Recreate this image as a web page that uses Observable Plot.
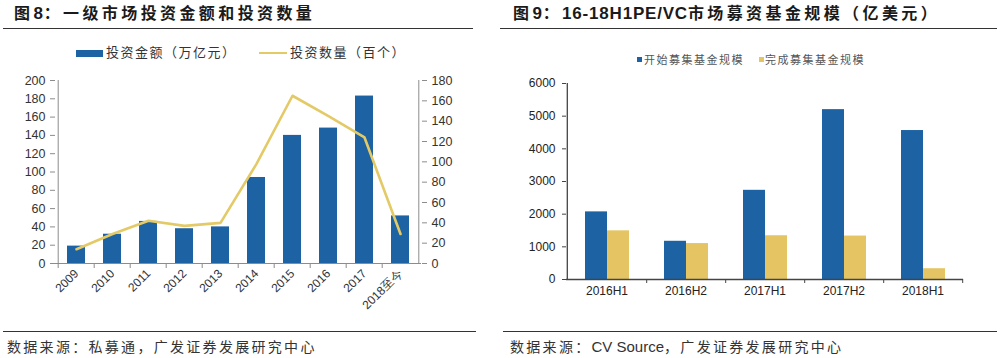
<!DOCTYPE html>
<html><head><meta charset="utf-8">
<script src="https://cdn.jsdelivr.net/npm/d3@7"></script>
<script src="https://cdn.jsdelivr.net/npm/@observablehq/plot@0.6"></script>
<style>
body{margin:0;background:#fff;width:1000px;height:358px;position:relative;overflow:hidden;font-family:"Liberation Sans",Arial,"Noto Sans CJK SC",sans-serif;}
.abs{position:absolute;}
.title{font-size:16px;font-weight:bold;letter-spacing:3.4px;color:#1a1a1a;top:4px;white-space:nowrap;line-height:20px;}
.lat{font-size:17px;letter-spacing:0.8px;}
.hr{height:0;border-top:1.6px solid #333;}
.foot{font-size:14px;color:#333;top:338px;letter-spacing:2.3px;white-space:nowrap;line-height:18px;}
.flat{letter-spacing:0;font-size:15px;}
.leg{white-space:nowrap;color:#333;}
svg{overflow:visible;}
</style></head><body>
<div class="abs title" style="left:14px">图<span class="lat">8</span>：一级市场投资金额和投资数量</div>
<div class="abs title" style="left:513px">图<span class="lat">9</span>：<span class="lat">16-18H1PE/VC</span>市场募资基金规模（亿美元）</div>
<div class="abs hr" style="left:3px;width:470px;top:28px"></div>
<div class="abs hr" style="left:500px;width:497px;top:28px"></div>

<div class="abs" style="left:76px;top:50px;width:27px;height:7px;background:#1d62a3"></div>
<div class="abs leg" style="left:106px;top:45px;font-size:13px;line-height:16px;letter-spacing:1.5px">投资金额（万亿元）</div>
<div class="abs" style="left:259px;top:52px;width:28px;height:2px;background:#e4ca66"></div>
<div class="abs leg" style="left:290px;top:45px;font-size:13px;line-height:16px;letter-spacing:1.5px">投资数量（百个）</div>

<div class="abs" style="left:637px;top:57px;width:5px;height:5px;background:#1d62a3"></div>
<div class="abs leg" style="left:644px;top:53px;font-size:11px;line-height:14px;letter-spacing:1.5px;color:#555">开始募集基金规模</div>
<div class="abs" style="left:759px;top:57px;width:5px;height:5px;background:#e5c563"></div>
<div class="abs leg" style="left:765px;top:53px;font-size:11px;line-height:14px;letter-spacing:1.5px;color:#555">完成募集基金规模</div>

<div id="c1a" class="abs" style="left:0;top:66px"></div>
<div id="c1b" class="abs" style="left:0;top:66px"></div>
<div id="c2a" class="abs" style="left:500px;top:70px"></div>
<div id="c2b" class="abs" style="left:500px;top:70px"></div>

<div class="abs hr" style="left:3px;width:473px;top:331px"></div>
<div class="abs hr" style="left:503px;width:494px;top:331px"></div>
<div class="abs foot" style="left:7px">数据来源：私募通，广发证券发展研究中心</div>
<div class="abs foot" style="left:510px">数据来源：<span class="flat">CV Source</span>，广发证券发展研究中心</div>

<script>
// ---- data: figure 8 ----
const years = ["2009","2010","2011","2012","2013","2014","2015","2016","2017","2018至今"];
const investAmount = [19, 32, 46, 38, 40, 94, 140, 148, 183, 52];   // 万亿元 (left axis)
const investCount  = [14, 29, 42, 37, 40, 98, 165, 145, 124, 29];   // 百个 (right axis)
const amountTicks = [0, 20, 40, 60, 80, 100, 120, 140, 160, 180, 200];
const countTicks  = [0, 20, 40, 60, 80, 100, 120, 140, 160, 180];

// ---- data: figure 9 ----
const periods = ["2016H1","2016H2","2017H1","2017H2","2018H1"];
const series = ["开始募集基金规模","完成募集基金规模"];
const startedFunds = [2070, 1170, 2730, 5200, 4560];
const closedFunds  = [1490, 1100, 1340, 1330, 330];
const fundTicks = [0, 1000, 2000, 3000, 4000, 5000, 6000];

const BLUE = "#1d62a3", YELLOW_LINE = "#e4ca66", YELLOW_BAR = "#e5c563";
const font = "Liberation Sans, Arial, sans-serif";
const plain = d => String(d);

// ---- figure 8 ----
const W1 = 470, H1 = 260, mL1 = 55, mR1 = 49, mT1 = 14, mB1 = 63;
const step1 = (W1 - mL1 - mR1) / years.length;
const amountRows = years.map((y, i) => ({year: y, amount: investAmount[i]}));
const countRows = years.map((y, i) => ({year: y, count: investCount[i]}));
const axis1 = "#8c8c8c";

const p1a = Plot.plot({
  width: W1, height: H1, marginLeft: mL1, marginRight: mR1, marginTop: mT1, marginBottom: mB1,
  style: {fontFamily: font, fontSize: "12px", color: "#333", background: "transparent"},
  x: {type: "band", domain: years, paddingInner: 0.5, paddingOuter: 0.25, axis: null},
  y: {domain: [0, 200], axis: null},
  marks: [
    Plot.barY(amountRows, {x: "year", y: "amount", fill: BLUE}),
    Plot.ruleY([0], {stroke: axis1}),
    Plot.ruleX([years[0]], {dx: -step1 / 2, stroke: axis1}),
    Plot.axisY(amountTicks, {tickSize: 5, tickPadding: 5, stroke: axis1, fill: "#333", fontSize: 12.5, tickFormat: plain, label: null}),
    Plot.axisX({tickSize: 5, tickFormat: () => "", dx: -step1 / 2, stroke: axis1, label: null}),
    Plot.axisX({tickSize: 0, tickPadding: 8, tickRotate: -45, fill: "#333", fontSize: 12, label: null})
  ]
});
document.getElementById("c1a").appendChild(p1a);

const p1b = Plot.plot({
  width: W1, height: H1, marginLeft: mL1, marginRight: mR1, marginTop: mT1, marginBottom: mB1,
  style: {fontFamily: font, fontSize: "12px", color: "#333", background: "transparent"},
  x: {type: "point", domain: years, padding: 0.5, axis: null},
  y: {domain: [0, 180], axis: null},
  marks: [
    Plot.line(countRows, {x: "year", y: "count", stroke: YELLOW_LINE, strokeWidth: 2.6}),
    Plot.ruleX([years[years.length - 1]], {dx: step1 / 2, stroke: axis1}),
    Plot.axisY(countTicks, {anchor: "right", tickSize: 5, tickPadding: 5, stroke: axis1, fill: "#333", fontSize: 12.5, tickFormat: plain, label: null})
  ]
});
document.getElementById("c1b").appendChild(p1b);

// ---- figure 9 ----
const W2 = 500, H2 = 240, mL2 = 66, mR2 = 37, mT2 = 13, mB2 = 31;
const step2 = (W2 - mL2 - mR2) / periods.length;
const fundRows = periods.flatMap((p, i) => [
  {period: p, series: series[0], value: startedFunds[i]},
  {period: p, series: series[1], value: closedFunds[i]}
]);
const axis2 = "#444";

const p2a = Plot.plot({
  width: W2, height: H2, marginLeft: mL2, marginRight: mR2, marginTop: mT2, marginBottom: mB2,
  style: {fontFamily: font, background: "transparent"},
  facet: {data: fundRows, x: "period"},
  fx: {domain: periods, padding: 0, axis: null, label: null},
  x: {domain: series, paddingInner: 0, paddingOuter: 0.74, axis: null},
  y: {domain: [0, 6000], axis: null},
  color: {domain: series, range: [BLUE, YELLOW_BAR]},
  marks: [
    Plot.barY(fundRows, {x: "series", y: "value", fill: "series"})
  ]
});
document.getElementById("c2a").appendChild(p2a);

const p2b = Plot.plot({
  width: W2, height: H2, marginLeft: mL2, marginRight: mR2, marginTop: mT2, marginBottom: mB2,
  style: {fontFamily: font, fontSize: "12px", color: "#222", background: "transparent"},
  x: {type: "band", domain: periods, padding: 0, axis: null},
  y: {domain: [0, 6000], axis: null},
  marks: [
    Plot.ruleY([0], {stroke: axis2, strokeWidth: 1.3}),
    Plot.ruleX([periods[0]], {dx: -step2 / 2, stroke: axis2, strokeWidth: 1.3}),
    Plot.axisY(fundTicks, {tickSize: 4, tickPadding: 7, stroke: axis2, fill: "#222", fontSize: 12, tickFormat: plain, label: null}),
    Plot.axisX({tickSize: 4, tickFormat: () => "", dx: step2 / 2, stroke: axis2, label: null}),
    Plot.axisX({tickSize: 0, tickPadding: 7, fill: "#222", fontSize: 12, label: null})
  ]
});
document.getElementById("c2b").appendChild(p2b);
</script>
</body></html>
